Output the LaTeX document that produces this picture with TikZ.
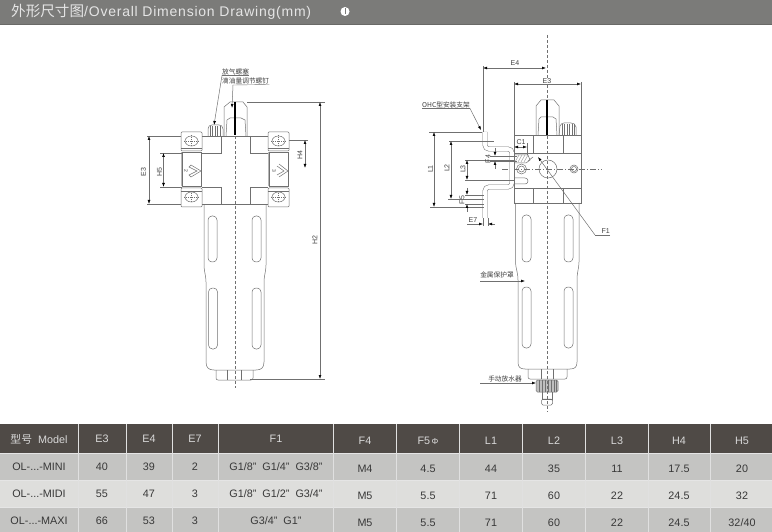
\documentclass[tikz,border=0pt]{standalone}
\usepackage{fontspec}
\setmainfont{Liberation Sans}
\newfontfamily\cjk{Noto Sans CJK SC}
\usetikzlibrary{arrows.meta}
\definecolor{bandgray}{HTML}{7B7B79}
\definecolor{headdark}{HTML}{4F4A46}
\definecolor{rowgray}{HTML}{C4C4C2}
\definecolor{rowlight}{HTML}{DEDEDC}
\definecolor{partline}{HTML}{707070}
\tikzset{
  part/.style={draw=partline,line width=.5pt},
  dimline/.style={draw=partline,line width=.5pt,{Latex[length=4pt,width=2.8pt,color=black]}-{Latex[length=4pt,width=2.8pt,color=black]}},
  tipline/.style={draw=partline,line width=.5pt,-{Latex[length=4pt,width=2.8pt,color=black]}},
  extline/.style={draw=partline,line width=.4pt},
  centerline/.style={draw=partline,line width=.5pt,dash pattern=on 3pt off 2pt},
  smalltext/.style={inner sep=0pt,text=black!75,font=\fontsize{7}{8}\selectfont},
  cjktext/.style={inner sep=0pt,text=black!75,font=\cjk\fontsize{6.7}{7}\selectfont},
  tabletext/.style={inner sep=0pt,text=black!78,font=\fontsize{10.8}{12}\selectfont},
  headtext/.style={inner sep=0pt,text=white!85!black,font=\fontsize{10.8}{12}\selectfont},
}
\newcommand{\slotpill}[3]{\draw[part,rounded corners=4pt] (#1,#2) rectangle ++(9,#3);}
\begin{document}
\begin{tikzpicture}[x=1pt,y=-1pt]
\useasboundingbox (0,0) rectangle (772,532);

% 标题栏
\fill[bandgray] (0,0) rectangle (772,24);
\fill[bandgray!85!black] (0,24) rectangle (772,25);
\node[anchor=west,inner sep=0pt,text=white!90!black,font=\fontsize{14}{15}\selectfont] (title) at (11,11.5) {{\cjk\fontsize{14.6}{15}\selectfont 外形尺寸图}\addfontfeature{LetterSpace=5.5}/Overall Dimension Drawing(mm)};
\fill[white] (345,11.5) circle[radius=4.5pt];
\draw[bandgray,line width=1pt] (345,8) -- (345,14);

% 左侧:正视图
\begin{scope}
\draw[part] (204,205) -- (204,265) .. controls (204,272) and (206,275) .. (206,282) -- (206,362) .. controls (206,368) and (209,370) .. (214,370) -- (256,370) .. controls (261,370) and (264,368) .. (264,362) -- (264,282) .. controls (264,275) and (266,272) .. (266,265) -- (266,205);
\draw[part,rounded corners=2pt] (216,370) -- (216,380) -- (253,380) -- (253,370);
\draw[part] (227,370) -- (227,380) (241,370) -- (241,380);
\slotpill{208}{216}{46}
\slotpill{252}{216}{46}
\slotpill{208.5}{288}{61}
\slotpill{252}{288}{61}
% 阀体
\draw[part] (202,136) -- (268,136) (202,204) -- (268,204);
\draw[part] (221,136) -- (221,153) -- (202,153) (221,204) -- (221,187) -- (202,187);
\draw[part] (250,136) -- (250,153) -- (268,153) (250,204) -- (250,187) -- (268,187);
\foreach \bx/\by in {181/132,181/188,268/132,268/188}{
  \draw[part,rounded corners=1pt] (\bx,\by) rectangle ++(21,19);
  \draw[part] (\bx+10.5,\by+9) circle[x radius=6.5pt,y radius=5pt];
  \draw[part,line width=.3pt,dash pattern=on 1pt off 1pt] (\bx+3,\by+9) -- ++(15,0) (\bx+10.5,\by+3) -- ++(0,12);
}
\draw[part] (181,148) -- (202,148) (181,191) -- (202,191) (268,148) -- (289,148) (268,191) -- (289,191);
% 观察窗
\draw[part] (182.5,152) rectangle (201,186);
\draw[part] (269.5,152) rectangle (288,186);
\draw[partline!50,line width=1.5pt] (181.5,152) -- (181.5,186) (268.5,152) -- (268.5,186);
\draw[part] (191,165) -- (201,171) -- (191,177) -- (189,175) -- (197,171) -- (189,167) -- cycle;
\draw[part] (279,164) -- (288,171) -- (279,177) (277,166) -- (284,171) -- (277,175);
\node[smalltext,rotate=-90,font=\fontsize{5}{6}\selectfont] (portL) at (186,171) {2};
\node[smalltext,rotate=-90,font=\fontsize{5}{6}\selectfont] (portR) at (274,171) {3};
% 顶部
\draw[part] (224,136) -- (224,107) -- (230,102) -- (243,102) -- (247,107) -- (247,136);
\draw[part] (226,136) -- (227,120) -- (230,118) -- (241,118) -- (245,120) -- (246,136);
\draw[part] (208,136) -- (208,129) .. controls (208,126) and (210,125) .. (212,125) -- (219,125) .. controls (221,125) and (223,126) .. (223,129) -- (223,136);
\foreach \rx in {210,212.5,215,217.5,220}{\draw[part,line width=.3pt] (\rx,126) -- (\rx,136);}
\draw[black,line width=1.2pt] (235,102) -- (235,135);
\draw[centerline] (235,136) -- (235,388);
% 标注
\draw[extline] (247,102) -- (325,102) (250,379) -- (325,379);
\draw[dimline] (320,102) -- (320,379);
\node[smalltext,rotate=90] (labelHtwo) at (315,240) {H2};
\draw[extline] (147,136) -- (181,136) (147,204) -- (181,204);
\draw[dimline] (149,136) -- (149,204);
\node[smalltext,rotate=90] (labelEthree) at (143.5,172) {E3};
\draw[extline] (160,153) -- (182,153) (160,187) -- (182,187);
\draw[dimline] (163.5,153) -- (163.5,187);
\node[smalltext,rotate=90] (labelHfive) at (159.5,172) {H5};
\draw[extline] (289,140) -- (308,140);
\draw[dimline] (305,140) -- (305,168);
\node[smalltext,rotate=90] (labelHfour) at (300,155) {H4};
% 引线
\node[cjktext,anchor=south west] (ventlabel) at (222,75.5) {放气螺塞};
\node[cjktext,anchor=south west] (oillabel) at (222,84.5) {滴油量调节螺钉};
\coordinate (venttip) at (214,125);
\coordinate (oiltip) at (232,108);
\draw[extline] (ventlabel.south east) -- (ventlabel.south west);
\draw[tipline] (ventlabel.south west) -- (venttip);
\draw[extline] (oillabel.south east) -- (233,85);
\draw[tipline] (233,85) -- (oiltip);
\end{scope}

% 右侧:侧视图
\begin{scope}
\draw[part] (515.5,203) -- (515.5,262) .. controls (515.5,268) and (518,272) .. (518,280) -- (518,362) .. controls (518,367) and (520,369) .. (525,369) -- (570,369) .. controls (575,369) and (577,367) .. (577,362) -- (577,280) .. controls (577,272) and (579,268) .. (579,262) -- (579,203);
\draw[part,rounded corners=2pt] (528,369) -- (528,379) -- (567,379) -- (567,369);
\draw[part] (541,369) -- (541,379) (553,369) -- (553,379);
\slotpill{522}{215}{47}
\slotpill{564}{215}{47}
\slotpill{522}{287}{61}
\slotpill{564}{287}{61}
% 放水器
\draw[part,fill=black!25,rounded corners=1.5pt] (536,380) rectangle (558,392);
\foreach \rx in {539,542,545,548,551,554,556}{\draw[part,line width=.3pt] (\rx,380) -- (\rx,392);}
\draw[part] (542,392) -- (542,399) -- (552,399) -- (552,392);
\draw[part,rounded corners=1.5pt] (541.5,399) rectangle (552.5,405);
% 阀体
\draw[part] (514,135) rectangle (581,203);
\draw[part] (514,153) -- (581,153) (514,188) -- (581,188);
\draw[part] (533,135) -- (533,153) (563,135) -- (563,153) (533,188) -- (533,203) (563,188) -- (563,203);
\draw[part] (548,169) circle[radius=9pt];
\draw[part] (574,169) circle[radius=4pt] (574,169) circle[radius=2.5pt];
\draw[part] (521.5,169) circle[radius=5pt] (521.5,169) circle[radius=3pt];
\draw[part,rounded corners=3pt] (514,178) -- (528,178) -- (528,184) -- (514,184);
\draw[centerline,dash pattern=on 6pt off 2pt on 1pt off 2pt] (502,169) -- (602,169);
% 顶部
\draw[part] (536,135) -- (536,106) -- (541,100) -- (554,100) -- (559,106) -- (559,135);
\draw[part] (538,135) -- (539,119) -- (541,117) -- (553,117) -- (556,119) -- (557,135);
\draw[part] (559,135) -- (560,126) .. controls (561,124) and (562,123) .. (564,123) -- (571,123) .. controls (574,123) and (575,124) .. (576,127) -- (576,135);
\foreach \rx in {562,564.5,567,569.5,572,574}{\draw[part,line width=.3pt] (\rx,124) -- (\rx,135);}
\draw[black,line width=1.2pt] (547,100) -- (547,135);
\draw[centerline] (547,35) -- (547,99) (547,136) -- (547,412);
% 支架
\draw[partline,line width=.5pt,double=white,double distance=3.8pt,rounded corners=4pt] (485,132) -- (485,149) -- (512,149) -- (512,187) -- (485,187) -- (485,218);
\foreach \hx in {515,518,521,524}{\draw[part,line width=.3pt] (\hx,162) -- (\hx+4,155);}
\draw[part] (514,155) -- (528,155) -- (530,160) -- (526,163) -- (514,163);
\draw[part] (528,161) -- (533,157);
% 标注
\draw[extline] (483,66) -- (483,132) (514,82) -- (514,135) (581,82) -- (581,135);
\draw[dimline] (483,68) -- (546,68);
\node[smalltext] (labelEfour) at (515,63) {E4};
\draw[dimline] (514,84) -- (581,84);
\node[smalltext,fill=white,inner sep=.5pt] (labelEthreeB) at (547,81) {E3};
\draw[extline] (429,132) -- (482,132) (430,207) -- (484,207);
\draw[dimline] (434,132) -- (434,207);
\node[smalltext,rotate=90] (labelLone) at (430.5,169) {L1};
\draw[extline] (449,141) -- (494,141) (448,199) -- (484,199);
\draw[dimline] (451,141) -- (451,199);
\node[smalltext,rotate=90] (labelLtwo) at (447,168) {L2};
\draw[extline] (465,160) -- (514,160) (465,180) -- (514,180);
\draw[dimline] (467,160) -- (467,180);
\node[smalltext,rotate=90] (labelLthree) at (463,169) {L3};
\draw[extline] (490,156) -- (517,156) (490,161) -- (517,161);
\draw[tipline] (495,148) -- (495,156);
\draw[tipline] (495,169) -- (495,161);
\node[smalltext,rotate=90] (labelFfour) at (488,159) {F4};
\draw[extline] (465,195) -- (484,195) (465,204) -- (484,204);
\draw[tipline] (467,188) -- (467,195);
\draw[tipline] (467,212) -- (467,204);
\node[smalltext,rotate=90] (labelFfive) at (462,200) {F5};
\draw[extline] (483,218) -- (483,226) (488,218) -- (488,226);
\draw[tipline] (467,224) -- (483,224);
\draw[tipline] (495,224) -- (488,224);
\node[smalltext] (labelEseven) at (473,220.5) {E7};
\draw[extline] (514,143) -- (514,155) (527,143) -- (527,155);
\draw[dimline] (514,147) -- (527,147);
\node[smalltext] (labelCone) at (521,142) {C1};
% 引线
\node[cjktext,anchor=south west] (ohclabel) at (422,108.5) {OHC型安装支架};
\coordinate (ohctip) at (481,130);
\draw[extline] (ohclabel.south west) -- (ohclabel.south east);
\draw[tipline] (ohclabel.south east) -- (ohctip);
\node[smalltext,anchor=south east] (labelFone) at (610,234) {F1};
\coordinate (fonetip) at (538,157);
\coordinate (fonebend) at (595,235);
\draw[extline] (610,235) -- (fonebend);
\draw[tipline] (fonebend) -- (fonetip);
\node[cjktext] (coverlabel) at (497,275) {金属保护罩};
\coordinate (covertip) at (525,281);
\draw[tipline] (480,281) -- (covertip);
\node[cjktext] (drainlabel) at (505,379) {手动放水器};
\coordinate (draintip) at (536,383);
\draw[tipline] (480,383) -- (draintip);
\end{scope}

% 参数表
\fill[headdark] (0,424) rectangle (772,453);
\fill[rowgray] (0,453) rectangle (772,480);
\fill[rowlight] (0,480) rectangle (772,507);
\fill[rowgray] (0,507) rectangle (772,532);
\draw[white!90!black,line width=.8pt] (0,453) -- (772,453) (0,480) -- (772,480) (0,507) -- (772,507);
\foreach \vx in {78,126,172,218,333,396,459,522,585,648,710}{\draw[white!88!black,line width=.8pt] (\vx,424) -- (\vx,532);}
\foreach \colx/\dy/\head/\rowa/\rowb/\rowc in {
  39/0/{{\cjk 型号}~~Model}/{OL-.{}.{}.-MINI}/{OL-.{}.{}.-MIDI}/{OL-.{}.{}.-MAXI},
  102/0/E3/40/55/66,
  149/0/E4/39/47/53,
  195/0/E7/2/3/3,
  276/0/F1/{G1/8"~~G1/4"~~G3/8"}/{G1/8"~~G1/2"~~G3/4"}/{G3/4"~~G1"},
  365/2/F4/M4/M5/M5,
  428/2/{F5{\fontsize{8.5}{9}\selectfont$\,$Φ}}/4.5/5.5/5.5,
  491/2/L1/44/71/71,
  554/2/L2/35/60/60,
  617/2/L3/11/22/22,
  679/2/H4/17.5/24.5/24.5,
  742/2/H5/20/32/{32/40}}{
  \node[headtext] (head\colx) at (\colx,439+0.7*\dy) {\head};
  \node[tabletext] (rowa\colx) at (\colx,467+\dy) {\rowa};
  \node[tabletext] (rowb\colx) at (\colx,494+\dy) {\rowb};
  \node[tabletext] (rowc\colx) at (\colx,521+\dy) {\rowc};
}
\end{tikzpicture}
\end{document}
